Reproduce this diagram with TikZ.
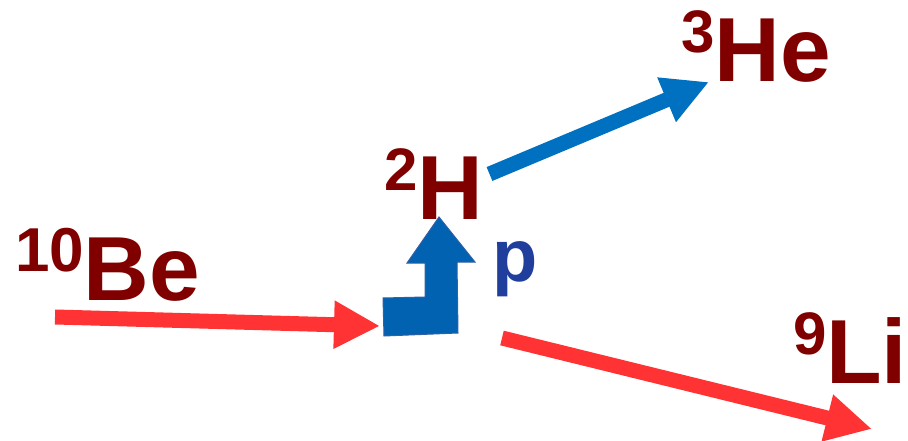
\documentclass[tikz,border=0pt]{standalone}
\usepackage{fontspec}
\setmainfont{Liberation Sans}
\usetikzlibrary{arrows.meta}
\definecolor{nucl}{RGB}{128,0,0}
\definecolor{redarr}{RGB}{255,51,51}
\definecolor{bluearr}{RGB}{0,112,192}
\definecolor{bentfill}{RGB}{0,98,177}
\definecolor{bentedge}{RGB}{50,95,165}
\definecolor{pcol}{RGB}{32,62,155}
\newcommand{\nuc}[2]{{\fontsize{60}{60}\selectfont\raisebox{29pt}{#1}}{\fontsize{91}{91}\selectfont #2}}
\tikzset{
  label/.style={inner sep=0pt, outer sep=0pt, anchor=base west, text=nucl, font=\bfseries},
  fatarrow/.style={line width=15pt, line cap=butt, -{Triangle[length=46pt,width=45pt]}},
}
\begin{document}
\begin{tikzpicture}[x=1pt,y=-1pt]
\useasboundingbox (0,0) rectangle (908,441);
\node[label] (be) at (15,300) {{\fontsize{62}{62}\selectfont\raisebox{29pt}{10}}{\fontsize{91}{91}\selectfont Be}};
\node[label] (h2) at (384,219) {\nuc{2}{H}};
\node[label] (he3) at (681,82) {\nuc{3}{He}};
\node[label] (li9) at (793,383) {\nuc{9}{Li}};
\node[label, text=pcol, font=\bfseries\fontsize{74}{74}\selectfont] (p) at (492,281) {p};
\coordinate (beStart) at (55,317);
\coordinate (beTip) at (380,326);
\coordinate (liStart) at (502,338);
\coordinate (liTip) at (872,429);
\coordinate (heStart) at (489.5,174);
\coordinate (heTip) at (709,82);
\draw[fatarrow, draw=redarr, fill=redarr] (beStart) -- (beTip);
\draw[fatarrow, draw=redarr, fill=redarr] (liStart) -- (liTip);
\draw[fatarrow, draw=bluearr, fill=bluearr] (heStart) -- (heTip);
\filldraw[fill=bentfill, draw=bentedge, line width=1pt, line join=miter]
  (383,298) -- (425,297) -- (425,263) -- (407,263) -- (439,217) -- (475,262)
  -- (457,262) -- (458,333) -- (384,336) -- cycle;
\end{tikzpicture}
\end{document}
